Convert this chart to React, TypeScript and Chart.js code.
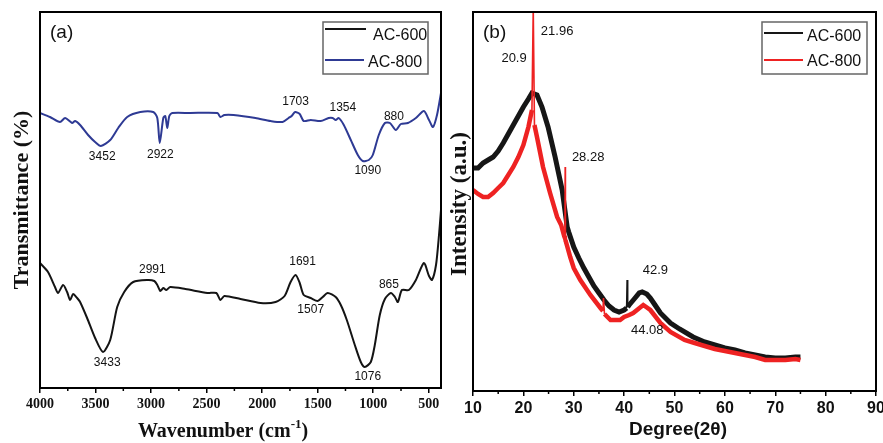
import React, { useEffect, useRef } from "react";
import { Chart, registerables } from "chart.js";

Chart.register(...registerables);

// ---------- Panel (a): FTIR ----------
const ftirMajorTicks = [4000, 3500, 3000, 2500, 2000, 1500, 1000, 500];
const ftirMinorTicks = [3750, 3250, 2750, 2250, 1750, 1250, 750];

const ftirWn800 = [4000, 3910, 3820, 3774, 3711, 3684, 3639, 3567, 3504, 3452, 3368, 3296, 3215, 3097, 2980, 2944, 2922, 2890, 2872, 2854, 2836, 2809, 2646, 2403, 2376, 2340, 2258, 2060, 1924, 1816, 1762, 1735, 1703, 1662, 1626, 1563, 1473, 1401, 1365, 1338, 1311, 1265, 1202, 1139, 1094, 1040, 1004, 950, 895, 850, 796, 751, 688, 616, 544, 498, 462, 426, 390];
const ftirT800 = [275, 271, 266, 270, 265, 267, 263, 253, 246, 242, 248, 260, 271, 276, 276, 270, 245, 270, 272, 260, 272, 275, 275, 275, 271, 273, 273, 270, 267, 266, 270, 272, 276, 274, 267, 268, 267, 270, 270, 268, 270, 263, 248, 233, 227, 228, 233, 253, 265, 265, 258, 264, 265, 270, 277, 268, 261, 273, 295];

const ftirWn600 = [4000, 3928, 3865, 3838, 3792, 3756, 3729, 3702, 3666, 3639, 3576, 3504, 3433, 3368, 3305, 3242, 3161, 3034, 2971, 2944, 2917, 2890, 2863, 2827, 2691, 2493, 2412, 2376, 2340, 2195, 2015, 1879, 1798, 1744, 1699, 1662, 1626, 1563, 1500, 1455, 1410, 1338, 1292, 1238, 1166, 1112, 1076, 1022, 986, 941, 895, 841, 805, 778, 742, 679, 616, 544, 498, 471, 435, 408, 390];
const ftirT600 = [125, 116, 101, 95, 103, 96, 88, 94, 90, 86, 70, 50, 36, 48, 81, 96, 106, 108, 107, 103, 97, 100, 98, 101, 99, 95, 95, 88, 92, 89, 85, 86, 92, 106, 113, 105, 93, 90, 87, 91, 95, 91, 83, 68, 43, 26, 21, 26, 43, 73, 89, 95, 91, 86, 98, 98, 108, 125, 112, 108, 123, 153, 178];

const ftirNotes = [
  { text: "3452", x: 3440, y: 231 },
  { text: "2922", x: 2917, y: 233 },
  { text: "1703", x: 1699, y: 286 },
  { text: "1354", x: 1274, y: 280 },
  { text: "880", x: 814, y: 271 },
  { text: "1090", x: 1049, y: 217 },
  { text: "2991", x: 2989, y: 118 },
  { text: "1691", x: 1636, y: 126 },
  { text: "1507", x: 1563, y: 78 },
  { text: "865", x: 859, y: 103 },
  { text: "3433", x: 3395, y: 25 },
  { text: "1076", x: 1049, y: 11 },
];

// ---------- Panel (b): XRD ----------
const xrdMajorTicks = [10, 20, 30, 40, 50, 60, 70, 80, 90];
const xrdMinorTicks = [15, 25, 35, 45, 55, 65, 75, 85];

const xrdDeg600 = [10, 11, 12, 13, 14, 15, 16, 17, 18, 19, 20, 21, 21.7, 22.7, 23.7, 24.9, 26.3, 27.7, 28.7, 29, 30, 31, 32, 33, 34, 35, 36, 37, 38, 39, 40, 40.5, 40.6, 40.7, 41, 42, 43, 43.6, 44.5, 45.2, 46, 47.2, 49.2, 51, 53.7, 56, 58, 60, 62, 64, 66, 68, 70, 72, 74, 75];
const xrdI600 = [223, 223, 228, 231, 234, 240, 248, 257, 266, 275, 284, 292, 298, 296, 284, 264, 234, 201, 164, 159, 144, 133, 123, 114, 105, 98, 91, 85, 81, 79, 81, 83, 111, 84, 86, 92, 98, 99, 97, 93, 87, 78, 68, 62, 54, 49, 46, 43, 41, 38, 36, 34, 33, 33, 34, 34];
const xrdSpikes600 = [40.6];

const xrdDeg800 = [10, 11, 12, 13, 14, 15, 16, 17, 18, 19, 20, 21, 21.7, 21.96, 22.2, 22.7, 23.9, 25.3, 26.7, 27.5, 28.1, 28.25, 28.3, 28.35, 29.3, 30, 31.3, 33.3, 35.3, 35.8, 35.9, 36.1, 37.3, 39.2, 40, 41, 41.8, 43.8, 45.2, 47.2, 49.2, 52, 54, 56, 58, 60, 62, 64, 66, 68, 70, 72, 74, 75];
const xrdI800 = [201, 197, 194, 194, 198, 203, 208, 216, 224, 234, 246, 264, 281, 382, 266, 254, 224, 198, 174, 166, 155, 153, 224, 151, 134, 123, 111, 96, 83, 80, 93, 77, 71, 71, 74, 76, 78, 86, 81, 68, 59, 51, 48, 45, 42, 40, 38, 36, 34, 31, 31, 31, 32, 31];
const xrdSpikes800 = [21.96, 28.3, 35.9];

const xrdNotes = [
  { text: "21.96", x: 26.7, y: 360 },
  { text: "20.9", x: 18.15, y: 333 },
  { text: "28.28", x: 32.86, y: 234 },
  { text: "42.9", x: 46.2, y: 121 },
  { text: "44.08", x: 44.6, y: 61 },
];

const zip = (xs: number[], ys: number[]) => xs.map((x, i) => ({ x, y: ys[i] }));

const SANS = "'Liberation Sans', Arial, sans-serif";
const SERIF = "'Liberation Serif', 'Times New Roman', serif";

const spikeSegment = (spikes: number[], thick: number) => ({
  borderWidth: (c: any) =>
    spikes.includes(c.p0.parsed.x) || spikes.includes(c.p1.parsed.x) ? 1.6 : thick,
});

const panelPlugin = {
  id: "panel",
  afterDatasetsDraw(chart: any, _args: any, o: any) {
    const { ctx, chartArea } = chart;
    const { left, right, top, bottom } = chartArea;
    const xs = chart.scales.x;
    const ys = chart.scales.y;
    ctx.save();
    ctx.strokeStyle = "#000";
    ctx.lineWidth = 2;
    ctx.strokeRect(left, top, right - left, bottom - top);
    ctx.lineWidth = 1.5;
    for (const v of o.minor) {
      const px = xs.getPixelForValue(v);
      ctx.beginPath();
      ctx.moveTo(px, bottom);
      ctx.lineTo(px, bottom + 3);
      ctx.stroke();
    }
    ctx.fillStyle = "#111";
    ctx.font = o.noteFont;
    ctx.textAlign = "center";
    ctx.textBaseline = "middle";
    for (const n of o.notes) {
      ctx.fillText(n.text, xs.getPixelForValue(n.x), ys.getPixelForValue(n.y));
    }
    ctx.font = `19px ${SANS}`;
    ctx.textAlign = "left";
    ctx.fillText(o.tag, o.tagX, o.tagY);
    const L = o.legend;
    ctx.strokeStyle = "#666";
    ctx.lineWidth = 1.5;
    ctx.strokeRect(L.x, L.y, L.w, L.h);
    chart.data.datasets.forEach((ds: any, i: number) => {
      const row = L.rows[i];
      ctx.strokeStyle = ds.borderColor;
      ctx.lineWidth = 2;
      ctx.beginPath();
      ctx.moveTo(row.x1, row.ly);
      ctx.lineTo(row.x2, row.ly);
      ctx.stroke();
      ctx.fillStyle = "#111";
      ctx.font = `16px ${SANS}`;
      ctx.textAlign = "left";
      ctx.textBaseline = "middle";
      ctx.fillText(ds.label, row.tx, row.ty);
    });
    ctx.fillStyle = "#111";
    ctx.save();
    ctx.translate(o.yTitle.x, o.yTitle.y);
    ctx.rotate(-Math.PI / 2);
    ctx.font = o.yTitle.font;
    ctx.textAlign = "center";
    ctx.textBaseline = "middle";
    ctx.fillText(o.yTitle.text, 0, 0);
    ctx.restore();
    const xt = o.xTitle;
    ctx.textBaseline = "middle";
    ctx.textAlign = "left";
    ctx.font = xt.font;
    const w1 = ctx.measureText(xt.text).width;
    let w2 = 0;
    let w3 = 0;
    if (xt.sup) {
      ctx.font = xt.supFont;
      w2 = ctx.measureText(xt.sup).width;
      ctx.font = xt.font;
      w3 = ctx.measureText(xt.after).width;
    }
    let sx = xt.x - (w1 + w2 + w3) / 2;
    ctx.fillText(xt.text, sx, xt.y);
    if (xt.sup) {
      sx += w1;
      ctx.font = xt.supFont;
      ctx.fillText(xt.sup, sx, xt.y - 7);
      sx += w2;
      ctx.font = xt.font;
      ctx.fillText(xt.after, sx, xt.y);
    }
    ctx.restore();
  },
};

function useChart(ref: React.RefObject<HTMLCanvasElement>, make: () => any) {
  useEffect(() => {
    if (!ref.current) return;
    const c = new Chart(ref.current, make());
    return () => c.destroy();
  }, []);
}

export default function App() {
  const refA = useRef<HTMLCanvasElement>(null);
  const refB = useRef<HTMLCanvasElement>(null);

  useChart(refA, () => ({
    type: "line",
    data: {
      datasets: [
        { label: "AC-600", data: zip(ftirWn600, ftirT600), borderColor: "#141414", borderWidth: 2, pointRadius: 0, tension: 0.25, fill: false },
        { label: "AC-800", data: zip(ftirWn800, ftirT800), borderColor: "#2E3A94", borderWidth: 2, pointRadius: 0, tension: 0.25, fill: false },
      ],
    },
    options: {
      responsive: false,
      animation: false,
      events: [],
      layout: { padding: { left: 40, right: 9, top: 12, bottom: 0 } },
      plugins: {
        legend: { display: false },
        tooltip: { enabled: false },
        panel: {
          minor: ftirMinorTicks,
          notes: ftirNotes,
          noteFont: `12px ${SANS}`,
          tag: "(a)",
          tagX: 50,
          tagY: 33,
          legend: {
            x: 323, y: 22, w: 105, h: 52,
            rows: [
              { x1: 325, x2: 366, ly: 29, tx: 373, ty: 36 },
              { x1: 325, x2: 364, ly: 60, tx: 368, ty: 63 },
            ],
          },
          yTitle: { text: "Transmittance (%)", x: 22, y: 200, font: `bold 22px ${SERIF}` },
          xTitle: { text: "Wavenumber (cm", sup: "-1", after: ")", x: 223, y: 432, font: `bold 20px ${SERIF}`, supFont: `bold 13px ${SERIF}` },
        },
      },
      scales: {
        x: {
          type: "linear",
          reverse: true,
          min: 390,
          max: 4000,
          afterBuildTicks: (s: any) => { s.ticks = ftirMajorTicks.map((v) => ({ value: v })); },
          afterFit: (s: any) => { s.height = 55; },
          grid: { drawOnChartArea: false, drawTicks: true, tickLength: 5, color: "#000", lineWidth: 1.5 },
          border: { display: true, color: "#000", width: 2 },
          ticks: { color: "#111", padding: 3, font: { family: SERIF, size: 14, weight: "bold" }, callback: (v: any) => String(v), maxRotation: 0, autoSkip: false },
        },
        y: { display: false, min: 0, max: 376 },
      },
    },
    plugins: [panelPlugin],
  }));

  useChart(refB, () => ({
    type: "line",
    data: {
      datasets: [
        { label: "AC-600", data: zip(xrdDeg600, xrdI600), borderColor: "#161616", borderWidth: 5, segment: spikeSegment(xrdSpikes600, 5), pointRadius: 0, tension: 0, fill: false, order: 2 },
        { label: "AC-800", data: zip(xrdDeg800, xrdI800), borderColor: "#EE2222", borderWidth: 4.5, segment: spikeSegment(xrdSpikes800, 4.5), pointRadius: 0, tension: 0, fill: false, order: 1 },
      ],
    },
    options: {
      responsive: false,
      animation: false,
      events: [],
      layout: { padding: { left: 33, right: 24, top: 12, bottom: 0 } },
      plugins: {
        legend: { display: false },
        tooltip: { enabled: false },
        panel: {
          minor: xrdMinorTicks,
          notes: xrdNotes,
          noteFont: `13px ${SANS}`,
          tag: "(b)",
          tagX: 43,
          tagY: 33,
          legend: {
            x: 322, y: 22, w: 105, h: 52,
            rows: [
              { x1: 324, x2: 363, ly: 33, tx: 367, ty: 37 },
              { x1: 324, x2: 363, ly: 60, tx: 367, ty: 62 },
            ],
          },
          yTitle: { text: "Intensity (a.u.)", x: 20, y: 204, font: `bold 23px ${SERIF}` },
          xTitle: { text: "Degree(2θ)", x: 238, y: 430, font: `bold 19px ${SANS}` },
        },
      },
      scales: {
        x: {
          type: "linear",
          min: 10,
          max: 90,
          afterBuildTicks: (s: any) => { s.ticks = xrdMajorTicks.map((v) => ({ value: v })); },
          afterFit: (s: any) => { s.height = 52; },
          grid: { drawOnChartArea: false, drawTicks: true, tickLength: 5, color: "#000", lineWidth: 1.5 },
          border: { display: true, color: "#000", width: 2 },
          ticks: { color: "#111", padding: 3, font: { family: SANS, size: 16, weight: "bold" }, callback: (v: any) => String(v), maxRotation: 0, autoSkip: false },
        },
        y: { display: false, min: 0, max: 379 },
      },
    },
    plugins: [panelPlugin],
  }));

  return (
    <div style={{ position: "fixed", left: 0, top: 0, width: 883, height: 443, overflow: "hidden", background: "#fff" }}>
      <canvas ref={refA} width={450} height={443} style={{ position: "absolute", left: 0, top: 0 }} />
      <canvas ref={refB} width={460} height={443} style={{ position: "absolute", left: 440, top: 0 }} />
    </div>
  );
}
